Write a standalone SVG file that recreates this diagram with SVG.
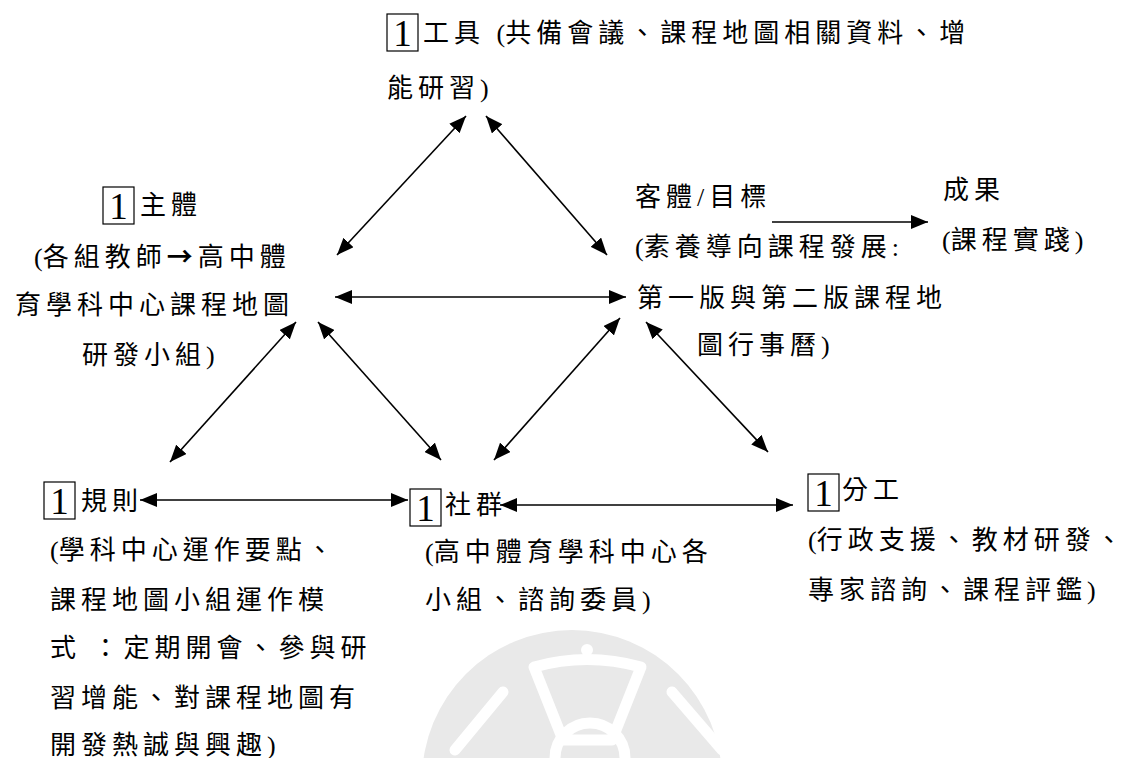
<svg xmlns="http://www.w3.org/2000/svg" width="1141" height="758" viewBox="0 0 1141 758">
<style>
  .t { font-family: "Liberation Serif", "Noto Sans CJK TC", serif; font-size: 26px; letter-spacing: 5px; fill: #000; }
  .p { letter-spacing: 0; }
  .ar { font-family: "Noto Sans CJK TC", sans-serif; font-weight: 700; }
  .n { font-family: "Liberation Serif", serif; font-size: 37px; fill: #000; text-anchor: middle; }
  .box { fill: none; stroke: #000; stroke-width: 1.2; }
  .c { stroke: #000; stroke-width: 1.6; fill: none; marker-end: url(#ah); }
  .bi { marker-start: url(#ah); }
  .wm { fill: none; stroke: #fff; stroke-width: 11; stroke-linecap: round; stroke-linejoin: round; }
</style>
<defs>
  <marker id="ah" viewBox="0 0 10 10" refX="10" refY="5" markerUnits="userSpaceOnUse" markerWidth="17" markerHeight="14" preserveAspectRatio="none" orient="auto-start-reverse">
    <path d="M0,0 L10,5 L0,10 z" fill="#000"/>
  </marker>
</defs>
<rect width="1141" height="758" fill="#fff"/>
<g id="watermark">
  <circle cx="572" cy="780" r="150" fill="#e9e9e9"/>
  <path class="wm" d="M534,667 Q587,652 641,667 L612,740 L563,740 Z"/>
  <circle cx="587" cy="650" r="6" fill="#fff"/>
  <path class="wm" d="M503,692 L455,750"/>
  <path class="wm" d="M672,692 L722,750"/>
  <path class="wm" d="M555,758 A34,34 0 0 1 625,758"/>
</g>
<g id="connectors">
  <line class="c bi" x1="466" y1="116" x2="337" y2="255"/>
  <line class="c bi" x1="486" y1="116" x2="607" y2="255"/>
  <line class="c bi" x1="335" y1="297" x2="626" y2="297"/>
  <line class="c bi" x1="296" y1="322" x2="170" y2="462"/>
  <line class="c bi" x1="318" y1="322" x2="441" y2="460"/>
  <line class="c bi" x1="620" y1="318" x2="494" y2="460"/>
  <line class="c bi" x1="646" y1="322" x2="768" y2="452"/>
  <line class="c bi" x1="140" y1="500" x2="408" y2="500"/>
  <line class="c bi" x1="500" y1="505" x2="793" y2="505"/>
  <line class="c" x1="772" y1="222" x2="928" y2="222"/>
</g>
<g id="node-tools">
  <rect class="box" x="387" y="14" width="31" height="37"/>
  <text class="n" x="402.5" y="46">1</text>
  <text class="t" x="423" y="42">工具 <tspan class="p">(</tspan>共備會議、課程地圖相關資料、增</text>
  <text class="t" x="387" y="97">能研習)</text>
</g>
<g id="node-subject">
  <rect class="box" x="103" y="187" width="31" height="37"/>
  <text class="n" x="118.5" y="219">1</text>
  <text class="t" x="140" y="214">主體</text>
  <text class="t" x="34" y="266"><tspan class="p">(</tspan>各組教師<tspan class="ar">→</tspan>高中體</text>
  <text class="t" x="15" y="314">育學科中心課程地圖</text>
  <text class="t" x="82" y="364">研發小組)</text>
</g>
<g id="node-object">
  <text class="t" x="635" y="206">客體/目標</text>
  <text class="t" x="635" y="256"><tspan class="p">(</tspan>素養導向課程發展:</text>
  <text class="t" x="637" y="307">第一版與第二版課程地</text>
  <text class="t" x="697" y="354">圖行事曆)</text>
</g>
<g id="node-outcome">
  <text class="t" x="943" y="199">成果</text>
  <text class="t" x="942" y="249"><tspan class="p">(</tspan>課程實踐)</text>
</g>
<g id="node-rules">
  <rect class="box" x="44" y="482" width="31" height="37"/>
  <text class="n" x="59.5" y="514">1</text>
  <text class="t" x="81" y="510">規則</text>
  <text class="t" x="50" y="559"><tspan class="p">(</tspan>學科中心運作要點、</text>
  <text class="t" x="50" y="609">課程地圖小組運作模</text>
  <text class="t" x="50" y="657">式 ：定期開會、參與研</text>
  <text class="t" x="50" y="707">習增能、對課程地圖有</text>
  <text class="t" x="50" y="754">開發熱誠與興趣)</text>
</g>
<g id="node-community">
  <rect class="box" x="410" y="489" width="31" height="37"/>
  <text class="n" x="425.5" y="521">1</text>
  <text class="t" x="445" y="514">社群</text>
  <text class="t" x="425" y="561"><tspan class="p">(</tspan>高中體育學科中心各</text>
  <text class="t" x="425" y="609">小組、諮詢委員)</text>
</g>
<g id="node-division">
  <rect class="box" x="808" y="474" width="31" height="37"/>
  <text class="n" x="823.5" y="506">1</text>
  <text class="t" x="842" y="499">分工</text>
  <text class="t" x="808" y="549"><tspan class="p">(</tspan>行政支援、教材研發、</text>
  <text class="t" x="808" y="599">專家諮詢、課程評鑑)</text>
</g>
</svg>
